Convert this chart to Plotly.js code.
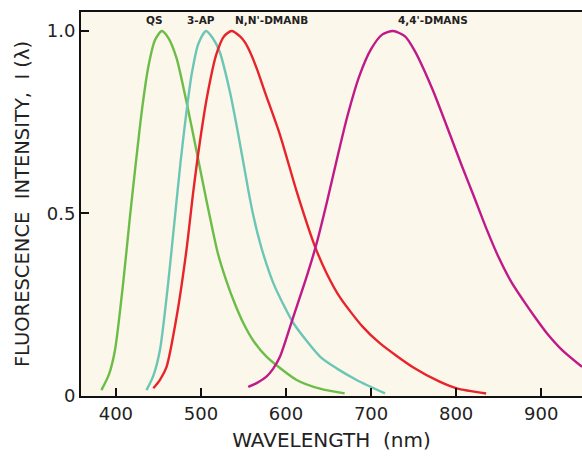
<!DOCTYPE html>
<html>
<head>
<meta charset="utf-8">
<script src="https://cdn.plot.ly/plotly-3.0.1.min.js"></script>
<style>html,body{margin:0;padding:0;background:#fff;}#chart{width:582px;height:456px;}</style>
</head>
<body>
<div id="chart"></div>
<script>
// Wavelength (nm) and normalized intensity
const qsX = [383, 392, 399, 408.6, 416.5, 424, 431, 438, 446, 454, 462, 471.4, 483, 495, 507, 520, 530, 540, 549.8, 562, 577, 612.5, 640, 669];
const qsY = [0.016, 0.06, 0.126, 0.31, 0.49, 0.65, 0.79, 0.9, 0.975, 1.0, 0.98, 0.925, 0.806, 0.669, 0.53, 0.39, 0.315, 0.252, 0.2, 0.15, 0.108, 0.044, 0.02, 0.007];

const apX = [436, 444, 451.8, 461.5, 469.4, 476, 482, 489, 497, 506, 514, 522, 534, 544, 556, 561.5, 570, 577, 585, 596, 608.6, 640, 660, 683, 716.5];
const apY = [0.016, 0.055, 0.126, 0.31, 0.49, 0.64, 0.76, 0.88, 0.965, 1.0, 0.98, 0.943, 0.834, 0.715, 0.56, 0.495, 0.415, 0.362, 0.31, 0.255, 0.2, 0.108, 0.075, 0.044, 0.007];

const dmanbX = [444, 452, 459.6, 471.4, 483, 491, 499, 508, 518, 527, 536, 546, 552, 557.6, 566, 575, 593, 612.6, 634, 648, 663.5, 690, 710.6, 749.8, 780, 800.8, 835.3];
const dmanbY = [0.021, 0.045, 0.08, 0.217, 0.4, 0.56, 0.7, 0.83, 0.935, 0.985, 1.0, 0.985, 0.968, 0.943, 0.895, 0.834, 0.715, 0.56, 0.41, 0.335, 0.27, 0.19, 0.144, 0.078, 0.04, 0.021, 0.007];

const dmansX = [555.6, 566, 577, 585, 593, 608.6, 624.3, 636, 648, 660, 672, 686, 700, 713, 726, 740, 752, 763, 773.3, 793, 806, 820.4, 835, 850, 865, 879, 893, 906.7, 925, 948];
const dmansY = [0.025, 0.036, 0.053, 0.075, 0.108, 0.217, 0.327, 0.418, 0.53, 0.65, 0.765, 0.875, 0.95, 0.99, 1.0, 0.985, 0.943, 0.89, 0.834, 0.715, 0.635, 0.55, 0.462, 0.38, 0.312, 0.262, 0.215, 0.172, 0.125, 0.08];

const xTicks = [400, 500, 600, 700, 800, 900];
const yTicks = [0, 0.5, 1.0];
const yTickText = ['0', '0.5', '1.0'];

const labels = ['QS', '3-AP', "N,N'-DMANB", "4,4'-DMANS"];
const labelX = [445, 500, 583, 773];

const font = 'DejaVu Sans, Liberation Sans, sans-serif';

function tr(x, y, c) {
  return {x: x, y: y, type: 'scatter', mode: 'lines', line: {color: c, width: 2.4, shape: 'spline', smoothing: 0.7}, hoverinfo: 'skip'};
}
const data = [
  tr(qsX, qsY, '#6cbd47'),
  tr(apX, apY, '#6cc6b6'),
  tr(dmanbX, dmanbY, '#e8242b'),
  tr(dmansX, dmansY, '#c01a88')
];

const annotations = labels.map((t, i) => ({
  x: labelX[i], y: 1.03, xref: 'x', yref: 'y', text: t, showarrow: false,
  font: {family: font, size: 10.5, color: '#222', weight: 'bold'}, xanchor: 'center', yanchor: 'middle'
}));

const layout = {
  width: 582, height: 456,
  margin: {l: 81, r: 0, t: 12, b: 60},
  paper_bgcolor: '#ffffff',
  plot_bgcolor: '#fcf7eb',
  showlegend: false,
  xaxis: {
    range: [359, 948], tickvals: xTicks, ticks: 'inside', ticklen: 8, tickwidth: 2, tickcolor: '#111',
    showline: true, linecolor: '#111', linewidth: 2, mirror: true, showgrid: false, zeroline: false,
    tickfont: {family: font, size: 18, color: '#222'},
    title: {text: 'WAVELENGTH  (nm)', font: {family: font, size: 20, color: '#222'}, standoff: 10}
  },
  yaxis: {
    range: [0, 1.052], tickvals: yTicks, ticktext: yTickText, ticks: 'inside', ticklen: 8, tickwidth: 2, tickcolor: '#111',
    showline: true, linecolor: '#111', linewidth: 2, showgrid: false, zeroline: false,
    tickfont: {family: font, size: 18, color: '#222'},
    title: {text: 'FLUORESCENCE  INTENSITY,  I (λ)', font: {family: font, size: 19.5, color: '#222'}, standoff: 12}
  },
  annotations: annotations
};

Plotly.newPlot('chart', data, layout, {staticPlot: true, displayModeBar: false});
</script>
</body>
</html>
